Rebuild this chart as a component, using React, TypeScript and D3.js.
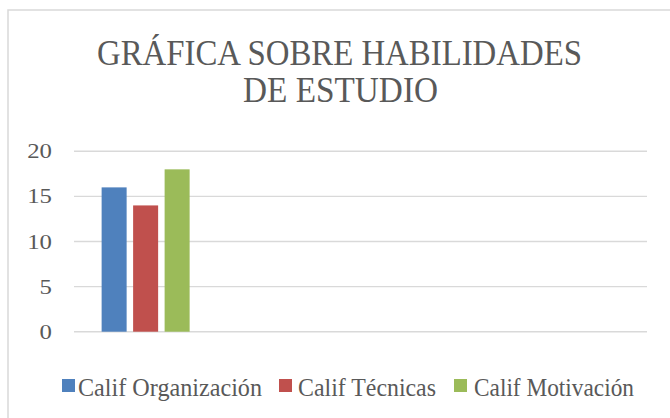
import React from "react";
import * as d3 from "d3";

const categories = ["1", "2", "3", "4"];
const seriesNames = ["Calif Organización", "Calif Técnicas", "Calif Motivación"];
const organizacion: (number | null)[] = [16, null, null, null];
const tecnicas: (number | null)[] = [14, null, null, null];
const motivacion: (number | null)[] = [18, null, null, null];
const yTicks = [0, 5, 10, 15, 20];
const titleLines = ["GRÁFICA SOBRE HABILIDADES", "DE ESTUDIO"];

const colors = ["#4f81bd", "#c0504d", "#9bbb59"];
const seriesValues = [organizacion, tecnicas, motivacion];

const W = 670;
const H = 418;
const plot = { left: 74, right: 647, top: 151.3, bottom: 331.7 };
const textColor = "#595959";
const gridColor = "#d9d9d9";
const serif = "'Liberation Serif', 'Times New Roman', serif";

// legend layout
const legendSquareX = [62, 279, 454];
const legendTextX = [78, 298, 474];
const legendTextLen = [184, 138, 160];

export default function App() {
  const y = d3.scaleLinear().domain([0, 20]).range([plot.bottom, plot.top]);
  const x0 = d3.scaleBand<string>().domain(categories).range([plot.left, plot.right]).padding(0);
  const x1 = d3
    .scaleBand<string>()
    .domain(seriesNames)
    .range([0, x0.bandwidth()])
    .paddingInner(0.206)
    .paddingOuter(0.877);

  return (
    <svg
      width={W}
      height={H}
      style={{ position: "absolute", left: 0, top: 0, background: "#fff" }}
    >
      <rect x={0} y={0} width={W} height={H} fill="#fff" />
      <rect
        x={8}
        y={10}
        width={W + 20}
        height={H + 20}
        fill="#fff"
        stroke={gridColor}
        strokeWidth={1.5}
      />
      {/* title */}
      <text
        x={339.5}
        y={64.5}
        textAnchor="middle"
        fontFamily={serif}
        fontSize={35}
        fill={textColor}
        textLength={485}
        lengthAdjust="spacingAndGlyphs"
      >
        {titleLines[0]}
      </text>
      <text
        x={340.5}
        y={102}
        textAnchor="middle"
        fontFamily={serif}
        fontSize={35}
        fill={textColor}
        textLength={195}
        lengthAdjust="spacingAndGlyphs"
      >
        {titleLines[1]}
      </text>
      {/* grid + ticks */}
      {yTicks.map((t) => (
        <g key={t}>
          <line
            x1={plot.left}
            x2={plot.right}
            y1={y(t)}
            y2={y(t)}
            stroke={gridColor}
            strokeWidth={1.4}
          />
          <text
            x={52}
            y={y(t) + 7}
            textAnchor="end"
            fontFamily={serif}
            fontSize={21}
            fill={textColor}
            textLength={String(t).length * 12.4}
            lengthAdjust="spacingAndGlyphs"
          >
            {t}
          </text>
        </g>
      ))}
      {/* bars */}
      {categories.map((c, ci) =>
        seriesNames.map((s, si) => {
          const v = seriesValues[si][ci];
          if (v == null) return null;
          return (
            <rect
              key={c + s}
              x={(x0(c) as number) + (x1(s) as number)}
              y={y(v)}
              width={x1.bandwidth()}
              height={y(0) - y(v)}
              fill={colors[si]}
            />
          );
        })
      )}
      {/* legend */}
      {seriesNames.map((s, i) => (
        <g key={s}>
          <rect x={legendSquareX[i]} y={379} width={13} height={13} fill={colors[i]} />
          <text
            x={legendTextX[i]}
            y={395.5}
            fontFamily={serif}
            fontSize={25}
            fill={textColor}
            textLength={legendTextLen[i]}
            lengthAdjust="spacingAndGlyphs"
          >
            {s}
          </text>
        </g>
      ))}
    </svg>
  );
}
